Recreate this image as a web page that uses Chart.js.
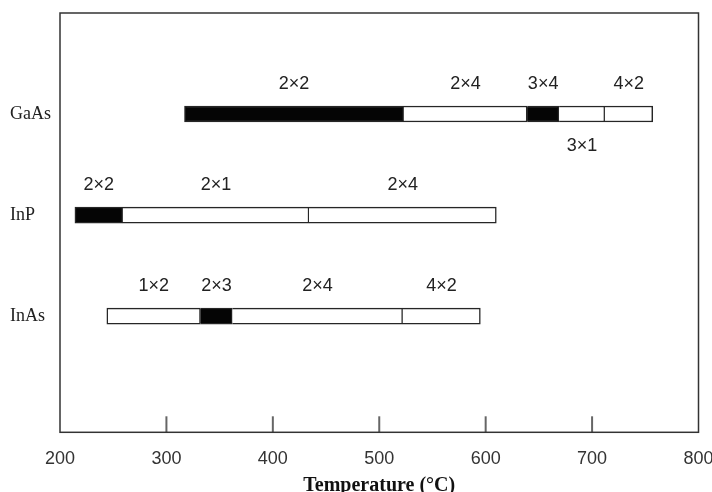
<!DOCTYPE html>
<html>
<head>
<meta charset="utf-8">
<script src="https://cdn.jsdelivr.net/npm/chart.js@4"></script>
<style>
  body { margin: 0; background: #fff; }
  canvas { display: block; }
</style>
</head>
<body>
<canvas id="grafico" width="712" height="492"></canvas>
<script>
// materiales y rangos de temperatura (°C) de cada reconstruccion
const materiales = ['GaAs', 'InP', 'InAs']

const fasesGaAs = ['2×2', '2×4', '3×4', '3×1', '4×2']
const limitesGaAs = [317, 523, 639, 669, 712, 757]

const fasesInP = ['2×2', '2×1', '2×4']
const limitesInP = [214, 259, 434, 610]

const fasesInAs = ['1×2', '2×3', '2×4', '4×2']
const limitesInAs = [244, 332, 362, 522, 595]

const ticksTemp = [200, 300, 400, 500, 600, 700, 800]

// segmentos en negro (indice de fase por material)
const oscuros = { GaAs: [0, 2], InP: [0], InAs: [1] }
// etiquetas que van debajo de la barra
const abajo = ['GaAs 3×1']

const filas = [
  [materiales[0], fasesGaAs, limitesGaAs],
  [materiales[1], fasesInP, limitesInP],
  [materiales[2], fasesInAs, limitesInAs],
]

let segmentos = []
filas.forEach(([mat, fases, lim], fila) => {
  fases.forEach((f, i) => {
    segmentos.push({
      x: [lim[i], lim[i + 1]],
      y: fila + 1,
      fase: f,
      mat: mat,
      oscuro: oscuros[mat].includes(i),
      primero: i === 0,
    })
  })
})

const marcoYticks = {
  id: 'marcoYticks',
  afterDatasetsDraw(chart) {
    const { ctx, chartArea: a, scales } = chart
    ctx.save()
    // marcas interiores del eje x
    ctx.strokeStyle = '#666'
    ctx.lineWidth = 2
    scales.x.ticks.forEach((t) => {
      if (t.value <= scales.x.min || t.value >= scales.x.max) return
      const px = scales.x.getPixelForValue(t.value)
      ctx.beginPath()
      ctx.moveTo(px, a.bottom)
      ctx.lineTo(px, a.bottom - 16)
      ctx.stroke()
    })
    // marco
    ctx.strokeStyle = '#333'
    ctx.lineWidth = 1.5
    ctx.strokeRect(a.left, a.top, a.right - a.left, a.bottom - a.top)

    // etiquetas de fase
    ctx.font = '18px "Liberation Sans", Arial, sans-serif'
    ctx.fillStyle = '#222'
    ctx.textAlign = 'center'
    ctx.textBaseline = 'middle'
    const meta = chart.getDatasetMeta(0)
    meta.data.forEach((bar, i) => {
      const s = segmentos[i]
      const cx = (bar.x + bar.base) / 2
      const debajo = abajo.includes(s.mat + ' ' + s.fase)
      ctx.fillText(s.fase, cx, debajo ? bar.y + 32 : bar.y - 30)
    })
    ctx.restore()
  },
}

const lienzo = document.getElementById('grafico')

new Chart(lienzo, {
  type: 'bar',
  data: {
    datasets: [
      {
        data: segmentos,
        backgroundColor: segmentos.map((s) => (s.oscuro ? '#050505' : '#ffffff')),
        borderColor: '#262626',
        borderWidth: 1.5,
        borderSkipped: (c) => (segmentos[c.dataIndex].primero ? false : 'left'),
        barThickness: 16,
        grouped: false,
      },
    ],
  },
  options: {
    indexAxis: 'y',
    responsive: false,
    devicePixelRatio: 1,
    animation: false,
    layout: { padding: { left: 10, top: 13, right: 13.5, bottom: 0 } },
    plugins: {
      legend: { display: false },
      tooltip: { enabled: false },
    },
    scales: {
      x: {
        type: 'linear',
        min: ticksTemp[0],
        max: ticksTemp[ticksTemp.length - 1],
        afterBuildTicks: (scale) => {
          scale.ticks = ticksTemp.map((v) => ({ value: v }))
        },
        afterFit: (scale) => {
          scale.height = 59.7
          scale.paddingLeft = 0
          scale.paddingRight = 0
        },
        grid: { display: false },
        border: { display: false },
        ticks: {
          padding: 8,
          maxRotation: 0,
          autoSkip: false,
          color: '#333',
          font: { family: '"Liberation Sans", Arial, sans-serif', size: 18 },
        },
        title: {
          display: true,
          text: 'Temperature (°C)',
          color: '#111',
          padding: { top: 0, bottom: 0 },
          font: { family: '"Liberation Serif", "Times New Roman", serif', size: 20, weight: 'bold', lineHeight: 0.6 },
        },
      },
      y: {
        type: 'linear',
        offset: false,
        min: 0,
        max: 4.15,
        reverse: true,
        afterBuildTicks: (scale) => {
          scale.ticks = materiales.map((m, i) => ({ value: i + 1 }))
        },
        afterFit: (scale) => {
          scale.width = 50
        },
        grid: { display: false },
        border: { display: false },
        ticks: {
          crossAlign: 'far',
          padding: 0,
          color: '#222',
          font: { family: '"Liberation Serif", "Times New Roman", serif', size: 18 },
          callback: (v) => materiales[v - 1],
        },
      },
    },
  },
  plugins: [marcoYticks],
})
</script>
</body>
</html>
